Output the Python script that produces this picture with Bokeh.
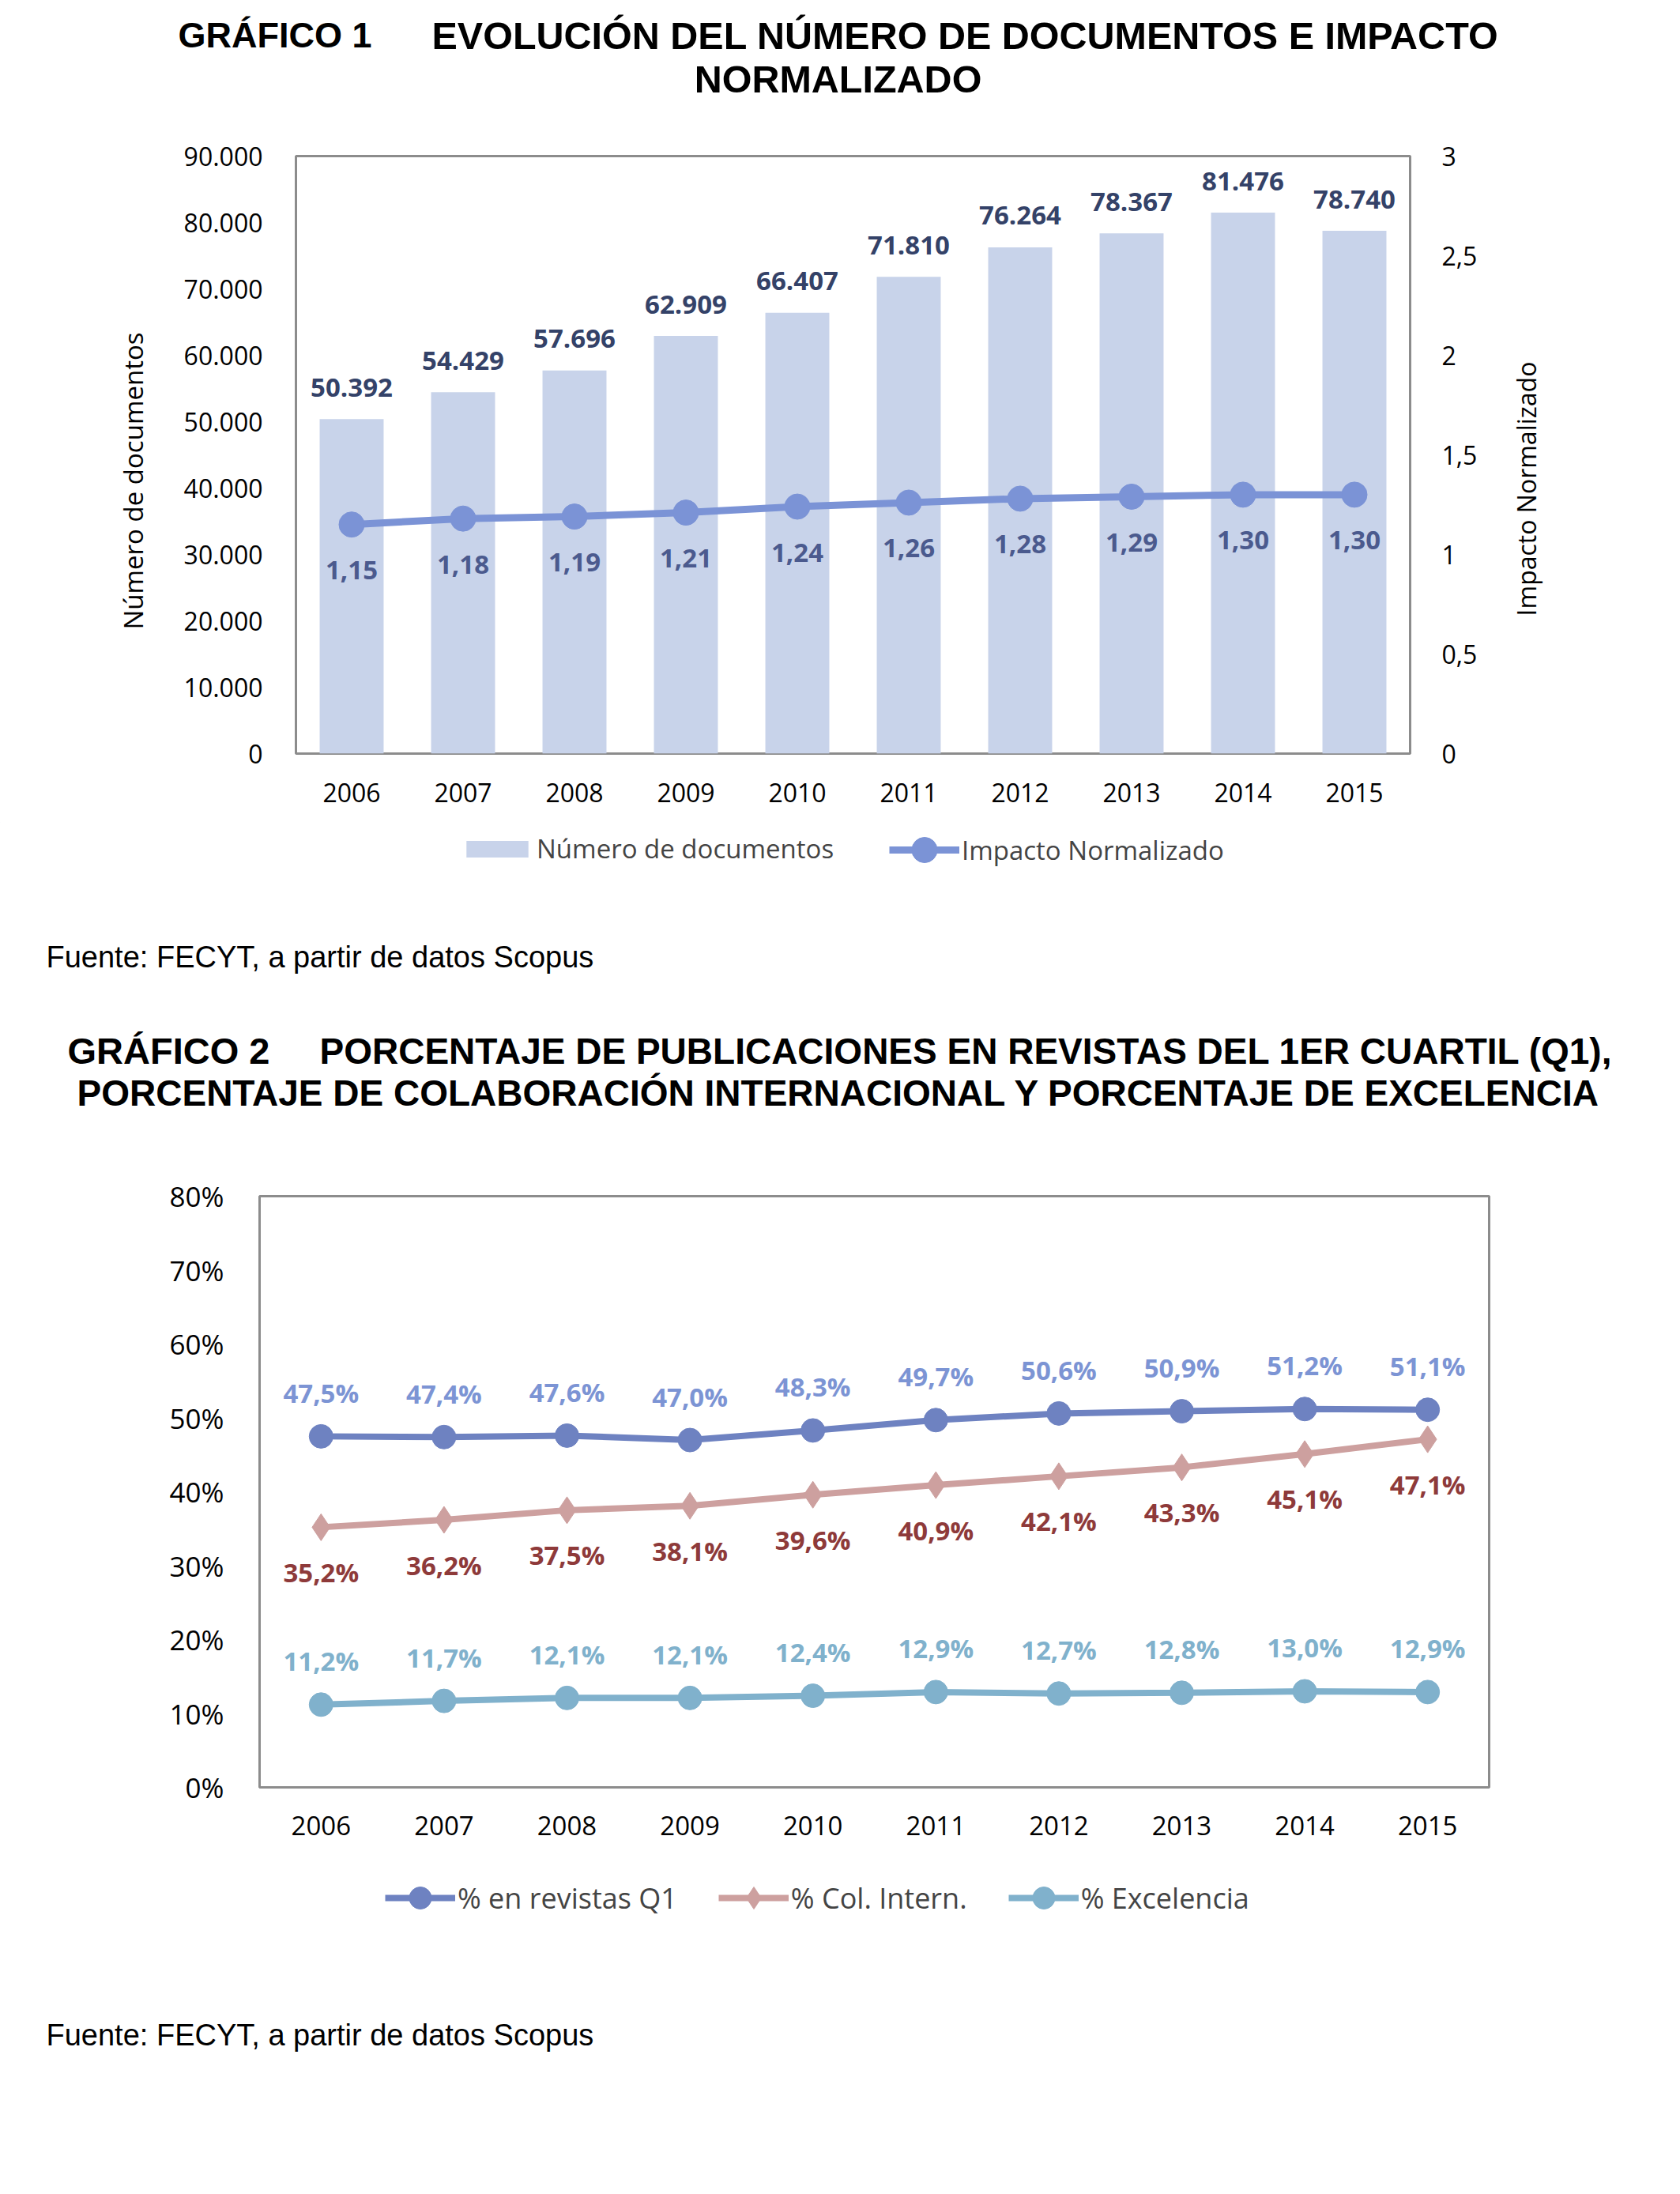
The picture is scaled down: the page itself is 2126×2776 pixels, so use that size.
import math
from bokeh.plotting import figure
from bokeh.models import (Range1d, FactorRange, LinearAxis, FixedTicker,
                          Legend, LegendItem, ColumnDataSource)
from bokeh.layouts import column, row
from bokeh.embed import file_html
from bokeh.resources import INLINE
from bokeh.core.properties import value

# ---------------- data ----------------
years = ["2006", "2007", "2008", "2009", "2010", "2011", "2012", "2013", "2014", "2015"]
documentos = [50392, 54429, 57696, 62909, 66407, 71810, 76264, 78367, 81476, 78740]
impacto = [1.15, 1.18, 1.19, 1.21, 1.24, 1.26, 1.28, 1.29, 1.30, 1.30]

q1 = [47.5, 47.4, 47.6, 47.0, 48.3, 49.7, 50.6, 50.9, 51.2, 51.1]
col_intern = [35.2, 36.2, 37.5, 38.1, 39.6, 40.9, 42.1, 43.3, 45.1, 47.1]
excelencia = [11.2, 11.7, 12.1, 12.1, 12.4, 12.9, 12.7, 12.8, 13.0, 12.9]

left_ticks1 = [0, 10000, 20000, 30000, 40000, 50000, 60000, 70000, 80000, 90000]
left_labels1 = ["0", "10.000", "20.000", "30.000", "40.000", "50.000", "60.000",
                "70.000", "80.000", "90.000"]
right_ticks1 = [0, 0.5, 1, 1.5, 2, 2.5, 3]
right_labels1 = ["0", "0,5", "1", "1,5", "2", "2,5", "3"]
ticks2 = [0, 10, 20, 30, 40, 50, 60, 70, 80]
labels2 = ["0%", "10%", "20%", "30%", "40%", "50%", "60%", "70%", "80%"]

title1_parts = ["GRÁFICO 1", "EVOLUCIÓN DEL NÚMERO DE DOCUMENTOS E IMPACTO", "NORMALIZADO"]
title2_parts = ["GRÁFICO 2", "PORCENTAJE DE PUBLICACIONES EN REVISTAS DEL 1ER CUARTIL (Q1),",
                "PORCENTAJE DE COLABORACIÓN INTERNACIONAL Y PORCENTAJE DE EXCELENCIA"]
y_title1 = "Número de documentos"
y_title1_right = "Impacto Normalizado"
fuente = "Fuente: FECYT, a partir de datos Scopus"

# ---------------- styles ----------------
W = 2118
FONT = "Open Sans"
TFONT = "Liberation Sans"
BAR = "#C8D3EA"
BAR_LBL = "#344268"
LINE1 = "#7B93D6"
LINE1_LBL = "#4B5A8E"
Q1C = "#6E82C1"
Q1_LBL = "#7C94D4"
COLC = "#CDA09F"
COL_LBL = "#8E3A3A"
EXCC = "#80B1CC"
EXC_LBL = "#80B1CC"
FRAME = "#8C8C8C"


def style_axis(ax, size):
    ax.axis_line_color = None
    ax.major_tick_line_color = None
    ax.minor_tick_line_color = None
    ax.major_label_text_font = FONT
    ax.major_label_text_font_size = size
    ax.major_label_text_color = "black"


def strip(x0, y0, width, height):
    """A plain figure whose data coordinates equal page pixels."""
    s = figure(width=width, height=height, x_range=Range1d(x0, x0 + width),
               y_range=Range1d(y0 + height, y0), x_axis_type=None, y_axis_type=None,
               min_border=0, outline_line_color=None, output_backend="svg",
               toolbar_location=None, background_fill_color="white",
               border_fill_color="white", frame_align=False)
    s.grid.visible = False
    return s


def put_text(s, x, y, text, size, bold=False, align="left", font=TFONT, angle=0.0):
    s.text(x=[x], y=[y], text=[text], text_font=value(font), text_font_size=size,
           text_font_style="bold" if bold else "normal", text_align=align,
           text_baseline="middle", text_color="black", angle=angle)


def legend(items, loc, gw, gh, size, standoff, spacing=40):
    return Legend(items=items, location=loc, orientation="horizontal",
                  glyph_width=gw, glyph_height=gh, label_standoff=standoff, spacing=spacing,
                  padding=0, margin=0, border_line_color=None, background_fill_alpha=0,
                  label_text_font=FONT, label_text_font_size=size, label_height=gh)


# ================= header 1 =================
h1 = strip(0, 0, W, 158)
put_text(h1, 225, 44, title1_parts[0], "45px", bold=True)
put_text(h1, 546, 44, title1_parts[1], "48.5px", bold=True)
put_text(h1, 1060, 99, title1_parts[2], "48.5px", bold=True, align="center")

# ================= Chart 1 =================
src1 = ColumnDataSource(dict(
    year=years, docs=documentos, imp=impacto,
    doc_lbl=[f"{v:,}".replace(",", ".") for v in documentos],
    imp_lbl=[f"{v:.2f}".replace(".", ",") for v in impacto],
))

C1_TOP, C1_H = 158, 882
p1 = figure(x_range=FactorRange(factors=years), y_range=Range1d(0, 90000),
            frame_width=1410, frame_height=756,
            min_border_left=174, min_border_right=106,
            min_border_top=39, min_border_bottom=87,
            output_backend="svg", toolbar_location=None, frame_align=False,
            background_fill_color="white", border_fill_color="white")
p1.extra_y_ranges = {"imp": Range1d(0, 3)}
p1.xgrid.visible = False
p1.ygrid.visible = False
p1.outline_line_color = FRAME
p1.outline_line_width = 3

lax = p1.yaxis[0]
lax.ticker = FixedTicker(ticks=left_ticks1)
lax.major_label_overrides = dict(zip(left_ticks1, left_labels1))
lax.major_label_standoff = 36
style_axis(lax, "32px")
style_axis(p1.xaxis[0], "32px")
p1.xaxis.major_label_standoff = 31

rax = LinearAxis(y_range_name="imp", ticker=FixedTicker(ticks=right_ticks1),
                 major_label_overrides=dict(zip(right_ticks1, right_labels1)),
                 major_label_standoff=34)
style_axis(rax, "32px")
p1.add_layout(rax, "right")

bars = p1.vbar(x="year", top="docs", width=0.574, source=src1,
               fill_color=BAR, line_color=None)
ln1 = p1.line(x="year", y="imp", source=src1, y_range_name="imp",
              line_color=LINE1, line_width=9)
sc1 = p1.scatter(x="year", y="imp", source=src1, y_range_name="imp",
                 marker="circle", size=32, fill_color=LINE1, line_color=LINE1)

p1.text(x="year", y="docs", text="doc_lbl", source=src1, y_offset=-40,
        text_align="center", text_baseline="middle", text_font=value(FONT),
        text_font_style="bold", text_font_size="33px", text_color=BAR_LBL)
p1.text(x="year", y="imp", text="imp_lbl", source=src1, y_range_name="imp", y_offset=58,
        text_align="center", text_baseline="middle", text_font=value(FONT),
        text_font_style="bold", text_font_size="33px", text_color=LINE1_LBL)

# axis titles beside chart 1
l1 = strip(0, C1_TOP, 200, C1_H)
put_text(l1, 168, 608, y_title1, "33px", align="center", font=FONT, angle=math.pi / 2)
r1 = strip(1890, C1_TOP, W - 1890, C1_H)
put_text(r1, 1931, 618, y_title1_right, "32px", align="center", font=FONT, angle=math.pi / 2)

# ================= legend 1 + source =================
g1 = strip(0, 1040, W, 220)
# off-screen proxies carrying the legend styles
gb = g1.vbar(x=[-500], top=[-500], width=1, fill_color=BAR, line_color=None)
gl = g1.line(x=[-600, -500], y=[-500, -500], line_color=LINE1, line_width=9)
gs = g1.scatter(x=[-500], y=[-500], marker="circle", size=32, fill_color=LINE1, line_color=LINE1)
g1.add_layout(legend([LegendItem(label="Número de documentos", renderers=[gb])],
                     (580, 164), 98, 26, "33px", 1))
g1.add_layout(legend([LegendItem(label="Impacto Normalizado", renderers=[gl, gs])],
                     (1125, 145), 89, 80, "33px", 3))
put_text(g1, 58, 1210, fuente, "38px")

# ================= header 2 =================
h2 = strip(0, 1260, W, 210)
put_text(h2, 85, 1329, title2_parts[0], "47px", bold=True)
put_text(h2, 404, 1329, title2_parts[1], "46px", bold=True)
put_text(h2, 1061, 1382, title2_parts[2], "46px", bold=True, align="center")

# ================= Chart 2 =================
src2 = ColumnDataSource(dict(
    year=years, q1=q1, col=col_intern, exc=excelencia,
    q1_lbl=[f"{v:.1f}%".replace(".", ",") for v in q1],
    col_lbl=[f"{v:.1f}%".replace(".", ",") for v in col_intern],
    exc_lbl=[f"{v:.1f}%".replace(".", ",") for v in excelencia],
))

p2 = figure(x_range=FactorRange(factors=years), y_range=Range1d(0, 80),
            frame_width=1556, frame_height=748,
            min_border_left=328, min_border_right=W - 328 - 1556,
            min_border_top=43, min_border_bottom=99,
            output_backend="svg", toolbar_location=None, frame_align=False,
            background_fill_color="white", border_fill_color="white")
p2.xgrid.visible = False
p2.ygrid.visible = False
p2.outline_line_color = FRAME
p2.outline_line_width = 3
p2.yaxis.ticker = FixedTicker(ticks=ticks2)
p2.yaxis.major_label_overrides = dict(zip(ticks2, labels2))
p2.yaxis.major_label_standoff = 39
style_axis(p2.yaxis[0], "35px")
style_axis(p2.xaxis[0], "33px")
p2.xaxis.major_label_standoff = 30

p2.line(x="year", y="q1", source=src2, line_color=Q1C, line_width=8)
p2.scatter(x="year", y="q1", source=src2, marker="circle", size=30,
           fill_color=Q1C, line_color=Q1C)
p2.line(x="year", y="col", source=src2, line_color=COLC, line_width=8)
p2.scatter(x="year", y="col", source=src2, marker="diamond", size=34,
           fill_color=COLC, line_color=COLC)
p2.line(x="year", y="exc", source=src2, line_color=EXCC, line_width=8)
p2.scatter(x="year", y="exc", source=src2, marker="circle", size=30,
           fill_color=EXCC, line_color=EXCC)

for fld, off, colr in (("q1", -55, Q1_LBL), ("col", 57, COL_LBL), ("exc", -55, EXC_LBL)):
    p2.text(x="year", y=fld, text=fld + "_lbl", source=src2, y_offset=off,
            text_align="center", text_baseline="middle", text_font=value(FONT),
            text_font_style="bold", text_font_size="33px", text_color=colr)

# ================= legend 2 + source =================
g2 = strip(0, 2360, W, 408)
items2 = []
for name, colr, mk in (("% en revistas Q1", Q1C, "circle"),
                       ("% Col. Intern.", COLC, "diamond"),
                       ("% Excelencia", EXCC, "circle")):
    rl = g2.line(x=[-600, -500], y=[-500, -500], line_color=colr, line_width=8)
    rs = g2.scatter(x=[-500], y=[-500], marker=mk, size=30,
                    fill_color=colr, line_color=colr)
    items2.append(LegendItem(label=name, renderers=[rl, rs]))
g2.add_layout(legend(items2, (487, 332), 89, 70, "36px", 3, spacing=52))
put_text(g2, 58, 2574, fuente, "38px")

layout = column(h1, row(l1, p1, r1), g1, h2, p2, g2)
open("out.html", "w").write(file_html(layout, INLINE))
